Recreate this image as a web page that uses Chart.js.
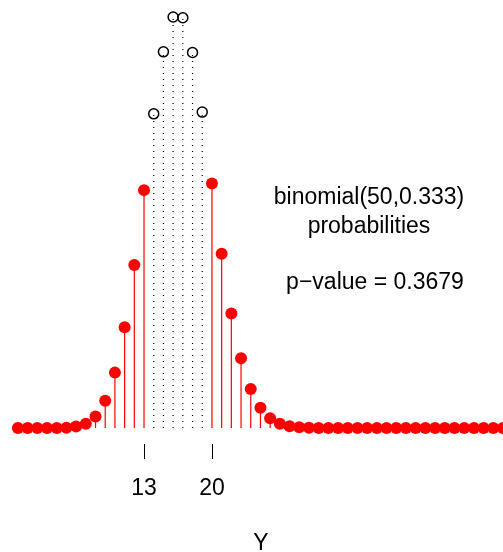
<!DOCTYPE html>
<html>
<head>
<meta charset="utf-8">
<script src="https://cdn.jsdelivr.net/npm/chart.js@4"></script>
<style>
  body { margin: 0; background: #fff; }
  #wrap { width: 503px; height: 552px; }
</style>
</head>
<body>
<div id="wrap"><canvas id="binomChart" width="503" height="552"></canvas></div>
<script>
// values of Y and their binomial(50,0.333) probabilities
const yValues = [0, 1, 2, 3, 4, 5, 6, 7, 8, 9, 10, 11, 12, 13, 14, 15, 16, 17, 18, 19, 20,
  21, 22, 23, 24, 25, 26, 27, 28, 29, 30, 31, 32, 33, 34, 35, 36, 37, 38, 39, 40,
  41, 42, 43, 44, 45, 46, 47, 48, 49, 50];
const probs = [0, 0, 0, 0.00000, 0.00002, 0.0001, 0.0004, 0.0012, 0.0033, 0.0078, 0.0159,
  0.0289, 0.0468, 0.0683, 0.0902, 0.1080, 0.1180, 0.1178, 0.1078, 0.0907, 0.0702,
  0.0500, 0.0329, 0.0200, 0.0112, 0.0058, 0.0028, 0.0012, 0.0005, 0.0002, 0.0001,
  0, 0, 0, 0, 0, 0, 0, 0, 0, 0,
  0, 0, 0, 0, 0, 0, 0, 0, 0, 0];
// the values between the two cut-offs are drawn as open circles with dotted lines
const innerValues = [14, 15, 16, 17, 18, 19];
const tickValues = [13, 20];
const tickLabels = ["13", "20"];
const xTitle = "Y";
const noteLines = ["binomial(50,0.333)", "probabilities"];
const pValueText = "p\u2212value = 0.3679";

const FONT = '23px "Liberation Sans", Arial, Helvetica, sans-serif';

function points(inner) {
  const out = [];
  yValues.forEach((v, i) => {
    if (innerValues.includes(v) === inner) out.push({ x: v, y: probs[i] });
  });
  return out;
}

function stems(inner) {
  const out = [];
  points(inner).forEach(p => {
    out.push({ x: p.x, y: 0 }, { x: p.x, y: p.y }, { x: p.x, y: null });
  });
  return out;
}

const extras = {
  id: "extras",
  afterDraw(chart) {
    const ctx = chart.ctx;
    const xs = chart.scales.x;
    const bottom = chart.chartArea.bottom;
    ctx.save();
    ctx.strokeStyle = "#000";
    ctx.lineWidth = 1;
    ctx.fillStyle = "#000";
    ctx.font = FONT;
    ctx.textAlign = "center";
    ctx.textBaseline = "alphabetic";
    tickValues.forEach((v, i) => {
      const px = Math.round(xs.getPixelForValue(v)) + 0.5;
      ctx.beginPath();
      ctx.moveTo(px, bottom);
      ctx.lineTo(px, bottom + 15);
      ctx.stroke();
      ctx.fillText(tickLabels[i], xs.getPixelForValue(v), 495);
    });
    ctx.fillText(xTitle, 261, 550);
    ctx.fillText(noteLines[0], 369, 204);
    ctx.fillText(noteLines[1], 369, 233);
    ctx.fillText(pValueText, 375, 289);
    ctx.restore();
  }
};

const ctx = document.getElementById("binomChart").getContext("2d");

new Chart(ctx, {
  type: "scatter",
  data: {
    datasets: [
      {
        data: points(false),
        pointRadius: 6,
        pointBackgroundColor: "#ff0000",
        pointBorderWidth: 0,
        order: 1
      },
      {
        data: points(true),
        pointRadius: 5,
        pointBackgroundColor: "rgba(0,0,0,0)",
        pointBorderColor: "#000",
        pointBorderWidth: 1.5,
        order: 2
      },
      {
        data: stems(false),
        showLine: true,
        borderColor: "#ff0000",
        borderWidth: 1.2,
        pointRadius: 0,
        order: 3
      },
      {
        data: stems(true),
        showLine: true,
        borderColor: "#000",
        borderWidth: 1.2,
        borderDash: [1, 5],
        pointRadius: 0,
        order: 4
      }
    ]
  },
  options: {
    responsive: false,
    animation: false,
    events: [],
    layout: { autoPadding: false, padding: { left: 0, right: 0, top: 0, bottom: 108 } },
    scales: {
      x: { type: "linear", display: false, min: -1.845, max: 50 },
      y: { type: "linear", display: false, min: -0.004594, max: 0.12289 }
    },
    plugins: {
      legend: { display: false },
      tooltip: { enabled: false }
    }
  },
  plugins: [extras]
});
</script>
</body>
</html>
